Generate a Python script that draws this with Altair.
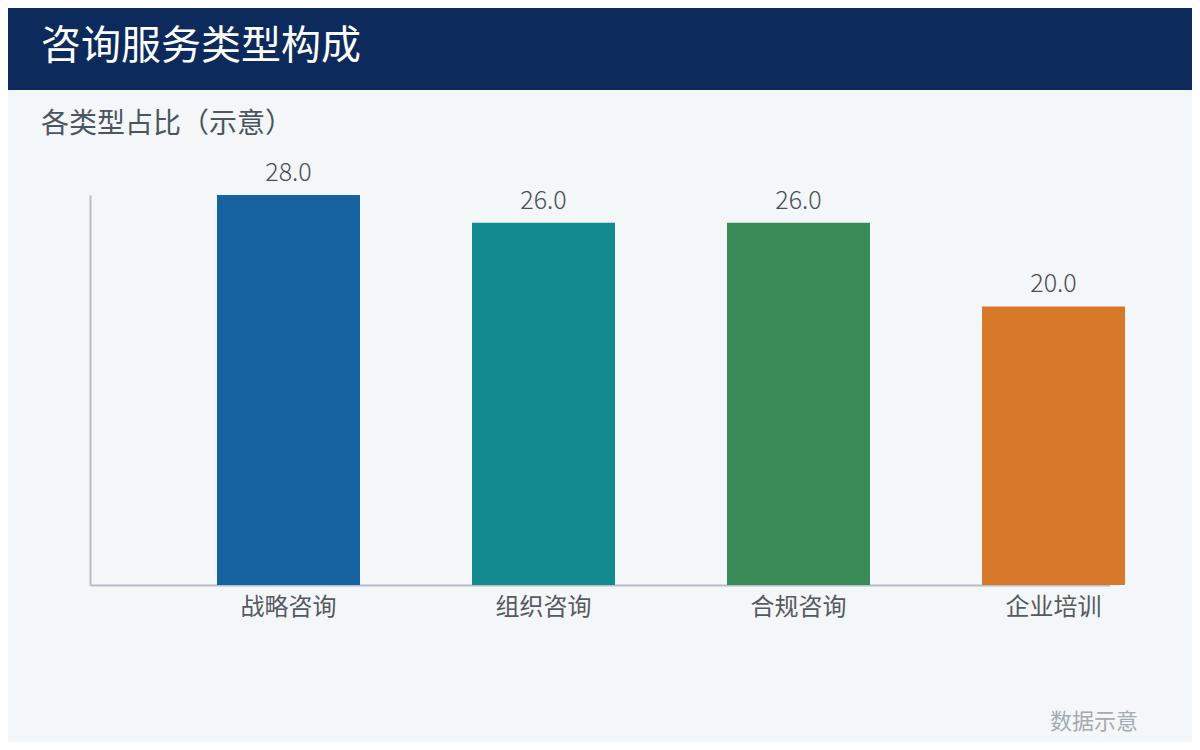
import altair as alt
import pandas as pd

categories = ["战略咨询", "组织咨询", "合规咨询", "企业培训"]
values = [28.0, 26.0, 26.0, 20.0]
bar_colors = ["#1763a0", "#138a8e", "#3a8a58", "#d7782a"]

FONT = "Noto Sans CJK SC"
W, H = 1020, 390

df = pd.DataFrame({"cat": categories, "val": values})
df["label"] = df["val"].map(lambda v: f"{v:.1f}")

xscale = alt.Scale(domain=categories, paddingInner=0, paddingOuter=0)
yscale = alt.Scale(domain=[0, 28], nice=False, zero=True)

base = alt.Chart(df)

bars = base.mark_bar(width=143, xOffset=71).encode(
    x=alt.X("cat:N", sort=None, scale=xscale,
            axis=alt.Axis(title=None, ticks=False, labelAngle=0, labelOffset=71,
                          labelFont=FONT, labelFontSize=24, labelColor="#555a60",
                          labelPadding=10, domainColor="#b4bec8", domainWidth=2)),
    y=alt.Y("val:Q", scale=yscale,
            axis=alt.Axis(title=None, ticks=False, labels=False, grid=False,
                          domainColor="#b4bec8", domainWidth=2)),
    color=alt.Color("cat:N", scale=alt.Scale(domain=categories, range=bar_colors), legend=None),
)

texts = base.mark_text(dx=71, dy=-22, baseline="middle", align="center",
                       font=FONT, fontSize=25, fontWeight=300, color="#4a4f55").encode(
    x=alt.X("cat:N", sort=None, scale=xscale),
    y=alt.Y("val:Q", scale=yscale),
    text="label:N",
)

one = pd.DataFrame({"t": ["咨询服务类型构成"]})
banner = alt.Chart(one).mark_rect(color="#0d2a5c").encode(
    x=alt.value(-82), x2=alt.value(1102), y=alt.value(-187), y2=alt.value(-105)
)
title = alt.Chart(one).mark_text(align="left", baseline="middle", font=FONT,
                                 fontSize=40, color="#ffffff").encode(
    x=alt.value(-49), y=alt.value(-148), text="t:N"
)
sub = alt.Chart(pd.DataFrame({"t": ["各类型占比（示意）"]})).mark_text(
    align="left", baseline="middle", font=FONT, fontSize=28, color="#4a5560").encode(
    x=alt.value(-49), y=alt.value(-70), text="t:N"
)
foot = alt.Chart(pd.DataFrame({"t": ["数据示意"]})).mark_text(
    align="right", baseline="middle", font=FONT, fontSize=22, color="#a3abb3").encode(
    x=alt.value(1048), y=alt.value(527), text="t:N"
)

chart = alt.layer(banner, title, sub, bars, texts, foot).properties(
    width=W, height=H,
    autosize=alt.AutoSizeParams(type="none"),
    padding={"left": 82, "top": 187, "right": 82, "bottom": 157},
    background="#f4f7fa",
).configure_view(stroke=None)

chart.save("out.html", embed_options={"renderer": "svg", "actions": False})
